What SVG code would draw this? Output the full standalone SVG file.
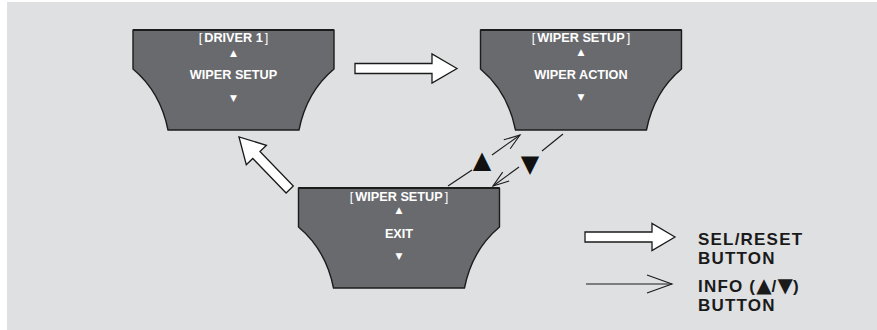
<svg xmlns="http://www.w3.org/2000/svg" width="877" height="330" viewBox="0 0 877 330">
<style>
.bg{fill:#dfe0e2}
.scr{fill:#696a6e;stroke:#1c1c1c;stroke-width:1.4;stroke-linejoin:round}
.top{stroke:#1c1c1c;stroke-width:2.2}
.t{font-family:"Liberation Sans",Arial,sans-serif;font-weight:bold;font-size:12.7px;fill:#ffffff;text-anchor:middle}
.br{font-weight:normal}
.tri{font-family:"DejaVu Sans",sans-serif;font-size:9px;fill:#ffffff;text-anchor:middle}
.big{font-family:"DejaVu Sans",sans-serif;font-size:24px;fill:#111111;text-anchor:middle}
.hollow{fill:#ffffff;stroke:#1a1a1a;stroke-width:1.3;stroke-linejoin:miter}
.thin{fill:none;stroke:#1a1a1a;stroke-width:1.1}
.leg{font-family:"Liberation Sans",Arial,sans-serif;font-weight:bold;font-size:17px;letter-spacing:1.2px;fill:#1a1a1a}
.lt{font-family:"DejaVu Sans",sans-serif;font-weight:normal;font-size:20px;letter-spacing:0}
</style>
<defs>
<path id="screen" d="M-100.5,0 H100.5 V39 Q73,62 65.5,100 H-65.5 Q-73,62 -100.5,39 Z"/>
<marker id="chs" viewBox="0 0 16 12" refX="16" refY="6" markerWidth="16" markerHeight="12" markerUnits="userSpaceOnUse" orient="auto" overflow="visible">
<path d="M0,0.5 L16,6 L0,11.5" fill="none" stroke="#1a1a1a" stroke-width="1.1"/>
</marker>
<marker id="chl" viewBox="0 0 25 18" refX="25" refY="9" markerWidth="25" markerHeight="18" markerUnits="userSpaceOnUse" orient="auto" overflow="visible">
<path d="M0,0 L25,9 L0,18" fill="none" stroke="#1a1a1a" stroke-width="1.1"/>
</marker>
</defs>
<rect x="0" y="0" width="877" height="330" fill="#ffffff"/>
<rect class="bg" x="7" y="2" width="870" height="328"/>

<g id="node-driver1">
<use href="#screen" class="scr" transform="translate(233.5,30)"/>
<line class="top" x1="133" y1="30" x2="334" y2="30"/>
<text class="t" x="233.5" y="42"><tspan class="br">[</tspan><tspan dx="2">DRIVER 1</tspan><tspan class="br" dx="2">]</tspan></text>
<text class="tri" x="233.5" y="56">▲</text>
<text class="t" x="233.5" y="79">WIPER SETUP</text>
<text class="tri" x="233.5" y="101">▼</text>
</g>

<g id="node-wiper-action">
<use href="#screen" class="scr" transform="translate(581,30)"/>
<line class="top" x1="480.5" y1="30" x2="681.5" y2="30"/>
<text class="t" x="581" y="42"><tspan class="br">[</tspan><tspan dx="2">WIPER SETUP</tspan><tspan class="br" dx="2">]</tspan></text>
<text class="tri" x="581" y="55">▲</text>
<text class="t" x="581" y="79">WIPER ACTION</text>
<text class="tri" x="581" y="100">▼</text>
</g>

<g id="node-exit">
<use href="#screen" class="scr" transform="translate(399,188)"/>
<line class="top" x1="298.5" y1="188" x2="499.5" y2="188"/>
<text class="t" x="399" y="201"><tspan class="br">[</tspan><tspan dx="2">WIPER SETUP</tspan><tspan class="br" dx="2">]</tspan></text>
<text class="tri" x="399" y="213">▲</text>
<text class="t" x="399" y="238">EXIT</text>
<text class="tri" x="399" y="259">▼</text>
</g>

<g id="connectors">
<polygon class="hollow" points="457,68.5 432,54 432,63.5 355,63.5 355,73.5 432,73.5 432,83"/>
<polygon class="hollow" transform="translate(239,137) rotate(226)" points="0,0 -25,-14 -25,-5 -73,-5 -73,5 -25,5 -25,14"/>
<line class="thin" x1="448" y1="186" x2="472" y2="170"/>
<line class="thin" x1="492" y1="155" x2="520" y2="135" marker-end="url(#chs)"/>
<text class="big" x="482" y="168">▲</text>
<line class="thin" x1="563" y1="134" x2="542" y2="151"/>
<line class="thin" x1="519" y1="167" x2="493" y2="186" marker-end="url(#chs)"/>
<text class="big" x="530" y="172">▼</text>
</g>

<g id="legend">
<polygon class="hollow" points="675,237 652,223.5 652,232 585,232 585,242 652,242 652,250.5"/>
<line class="thin" x1="586" y1="284" x2="672" y2="284" marker-end="url(#chl)"/>
<text class="leg" x="698" y="244.5">SEL/RESET</text>
<text class="leg" x="698" y="263.5">BUTTON</text>
<text class="leg" x="698" y="291.5">INFO (<tspan class="lt">▲</tspan>/<tspan class="lt">▼</tspan>)</text>
<text class="leg" x="698" y="310.5">BUTTON</text>
</g>
</svg>
